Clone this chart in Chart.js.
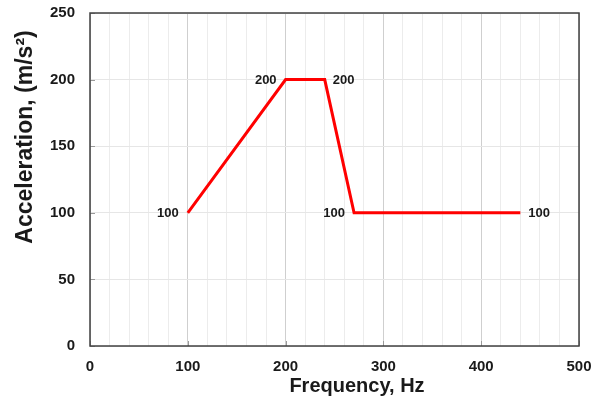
<!DOCTYPE html>
<html>
<head>
<meta charset="utf-8">
<script src="https://cdn.jsdelivr.net/npm/chart.js@4/dist/chart.umd.min.js"></script>
<style>
  html, body { margin: 0; padding: 0; background: #ffffff; }
  #wrap { width: 596px; height: 399px; position: relative; }
</style>
</head>
<body>
<div id="wrap"><canvas id="c"></canvas></div>
<script>
// ---- data ----
const frequencyHz = [100, 200, 240, 270, 440];
const accelerationMs2 = [100, 200, 200, 100, 100];
const pointLabels = ['100', '200', '200', '100', '100'];
const xTickLabels = [0, 100, 200, 300, 400, 500];
const yTickLabels = [0, 50, 100, 150, 200, 250];
const xTitle = 'Frequency, Hz';
const yTitle = 'Acceleration, (m/s\u00B2)';

const FONT = '"Liberation Sans", Arial, Helvetica, sans-serif';
const labelSides = ['left', 'left', 'right', 'left', 'right'];

const points = frequencyHz.map((f, i) => ({ x: f, y: accelerationMs2[i] }));

const decorPlugin = {
  id: 'decor',
  beforeDatasetsDraw(chart) {
    const { ctx, chartArea: a, scales } = chart;
    ctx.save();
    ctx.strokeStyle = '#9a9a9a';
    ctx.lineWidth = 1;
    yTickLabels.forEach(v => {
      const y = Math.round(scales.y.getPixelForValue(v)) + 0.5;
      ctx.beginPath(); ctx.moveTo(a.left, y); ctx.lineTo(a.left + 5, y); ctx.stroke();
    });
    xTickLabels.forEach(v => {
      const x = Math.round(scales.x.getPixelForValue(v)) + 0.5;
      ctx.beginPath(); ctx.moveTo(x, a.bottom); ctx.lineTo(x, a.bottom - 5); ctx.stroke();
    });
    ctx.restore();
  },
  afterDatasetsDraw(chart) {
    const { ctx, chartArea: a, scales } = chart;
    ctx.save();
    ctx.strokeStyle = '#404040';
    ctx.lineWidth = 1.5;
    ctx.strokeRect(a.left, a.top, a.right - a.left, a.bottom - a.top);
    ctx.fillStyle = '#1a1a1a';
    ctx.font = 'bold 13px ' + FONT;
    ctx.textBaseline = 'middle';
    frequencyHz.forEach((f, i) => {
      const x = scales.x.getPixelForValue(f);
      const y = scales.y.getPixelForValue(accelerationMs2[i]);
      if (labelSides[i] === 'left') {
        ctx.textAlign = 'right';
        ctx.fillText(pointLabels[i], x - 9, y + 1);
      } else {
        ctx.textAlign = 'left';
        ctx.fillText(pointLabels[i], x + 8, y + 1);
      }
    });
    ctx.fillStyle = '#1a1a1a';
    ctx.textAlign = 'center';
    ctx.textBaseline = 'middle';
    ctx.font = 'bold 20px ' + FONT;
    ctx.fillText(xTitle, 357, 386);
    ctx.translate(26, 137);
    ctx.rotate(-Math.PI / 2);
    ctx.font = 'bold 23px ' + FONT;
    ctx.fillText(yTitle, 0, 0);
    ctx.restore();
  }
};

new Chart(document.getElementById('c'), {
  type: 'line',
  data: {
    datasets: [{
      data: points,
      borderColor: '#ff0000',
      borderWidth: 3,
      pointRadius: 0,
      tension: 0,
      fill: false
    }]
  },
  options: {
    responsive: true,
    maintainAspectRatio: false,
    animation: false,
    layout: { padding: { left: 0, right: 17, top: 13, bottom: 0 } },
    plugins: { legend: { display: false }, tooltip: { enabled: false } },
    scales: {
      x: {
        type: 'linear',
        min: 0, max: 500,
        afterFit: s => { s.height = 53; s.paddingLeft = 0; s.paddingRight = 0; },
        afterBuildTicks: s => {
          const t = [];
          for (let v = 0; v <= 500; v += 20) t.push({ value: v });
          s.ticks = t;
        },
        ticks: {
          autoSkip: false,
          maxRotation: 0,
          padding: 12,
          color: '#1a1a1a',
          font: { family: FONT, size: 15, weight: 'bold' },
          callback: v => (xTickLabels.includes(v) ? String(v) : '')
        },
        grid: {
          drawTicks: false,
          color: c => (c.tick && c.tick.value % 100 === 0 ? '#cfcfcf' : '#ececec'),
          lineWidth: 1
        },
        border: { display: false }
      },
      y: {
        type: 'linear',
        min: 0, max: 250,
        afterFit: s => { s.width = 90; s.paddingTop = 0; s.paddingBottom = 0; },
        afterBuildTicks: s => { s.ticks = yTickLabels.map(v => ({ value: v })); },
        ticks: {
          padding: 15,
          color: '#1a1a1a',
          font: { family: FONT, size: 15, weight: 'bold' }
        },
        grid: { drawTicks: false, color: '#e6e6e6', lineWidth: 1 },
        border: { display: false }
      }
    }
  },
  plugins: [decorPlugin]
});
</script>
</body>
</html>
